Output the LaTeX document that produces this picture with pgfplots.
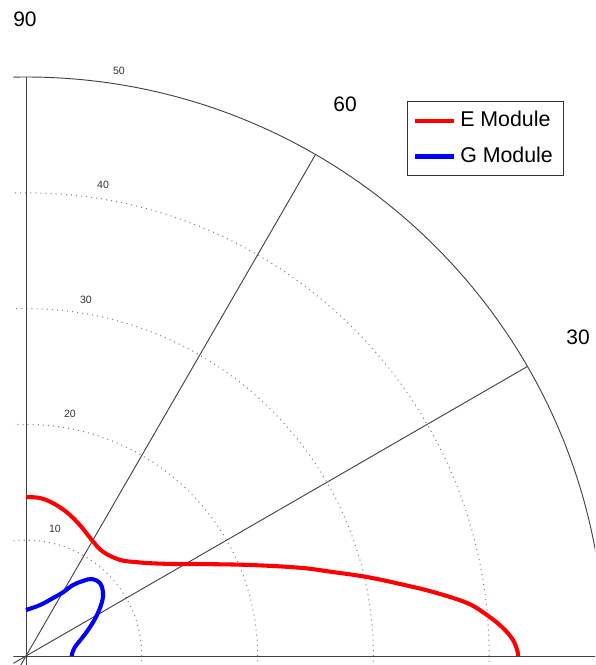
\documentclass[border=0pt]{standalone}
\usepackage{fontspec}
\setmainfont{Liberation Sans}
\usepackage{pgfplots}
\pgfplotsset{compat=1.18}
\begin{document}
\begin{tikzpicture}
\begin{axis}[
  x=0.2cm, y=0.2cm,
  xmin=-2.245, xmax=49.14, ymin=-0.777, ymax=56.65,
  hide axis,
  clip=true,
  legend style={at={(axis description cs:0.6835,0.8486)}, anchor=north west,
    draw=black!80, line width=0.5pt, fill=white,
    font=\fontsize{10.5}{12}\selectfont,
    inner xsep=3pt, inner ysep=3pt, row sep=4.5pt,
    legend cell align=left},
  legend image code/.code={\draw[#1] (0cm,0cm) -- (0.67cm,0cm);},
]
\path (rel axis cs:0,0) rectangle (rel axis cs:1,1);
\begin{scope}
\clip (axis cs:-1.1,-1.1) rectangle (axis cs:60,60);
\draw[gray, line width=0.5pt, dotted] (axis cs:0,0) circle[radius=10];
\draw[gray, line width=0.5pt, dotted] (axis cs:0,0) circle[radius=20];
\draw[gray, line width=0.5pt, dotted] (axis cs:0,0) circle[radius=30];
\draw[gray, line width=0.5pt, dotted] (axis cs:0,0) circle[radius=40];
\draw[black!75, line width=0.45pt] (axis cs:0,0) circle[radius=50];
\draw[black!75, line width=0.45pt] (axis cs:-50,0) -- (axis cs:50,0);
\draw[black!75, line width=0.45pt] (axis cs:0,-50) -- (axis cs:0,50);
\draw[black!75, line width=0.45pt] (axis cs:-43.30,-25) -- (axis cs:43.30,25);
\draw[black!75, line width=0.45pt] (axis cs:-25,-43.30) -- (axis cs:25,43.30);
\end{scope}
\node[font=\fontsize{5.2}{6}\selectfont, text=black!80] at (axis cs:2.5,10.97) {10};
\node[font=\fontsize{5.2}{6}\selectfont, text=black!80] at (axis cs:3.8,20.9) {20};
\node[font=\fontsize{5.2}{6}\selectfont, text=black!80] at (axis cs:5.18,30.75) {30};
\node[font=\fontsize{5.2}{6}\selectfont, text=black!80] at (axis cs:6.65,40.67) {40};
\node[font=\fontsize{5.2}{6}\selectfont, text=black!80] at (axis cs:8.03,50.5) {50};
\node[font=\fontsize{10.3}{12}\selectfont] at (axis cs:-0.09,54.97) {90};
\node[font=\fontsize{10.3}{12}\selectfont] at (axis cs:27.55,47.67) {60};
\node[font=\fontsize{10.3}{12}\selectfont] at (axis cs:47.67,27.55) {30};
\addplot[red, line width=2pt, smooth, tension=0.6] coordinates {
(0,13.73) (1.21,13.64) (2.33,13.2) (3.54,12.4) (4.66,11.3) (5.7,10.0)
(6.65,9.0) (8.12,8.3) (9.6,8.1) (11,8.0) (13.04,7.94) (15.03,7.94)
(19.34,7.86) (23.66,7.62) (26.51,7.25) (29.45,6.82) (32.3,6.22)
(35.15,5.53) (38.08,4.58) (39.81,3.54) (41.19,2.42) (42.06,1.38)
(42.45,0.4) (42.5,0)
};
\addlegendentry{E Module}
\addplot[blue, line width=2pt, smooth, tension=0.6] coordinates {
(0,3.97) (1.21,4.40) (2.33,5.0) (3.2,5.5) (4.06,6.13) (4.92,6.48)
(5.7,6.65) (6.39,6.3) (6.65,5.53) (6.56,4.66) (6.13,3.54) (5.53,2.5)
(4.84,1.55) (4.23,0.78) (3.97,0.17) (3.95,0)
};
\addlegendentry{G Module}
\end{axis}
\end{tikzpicture}
\end{document}
